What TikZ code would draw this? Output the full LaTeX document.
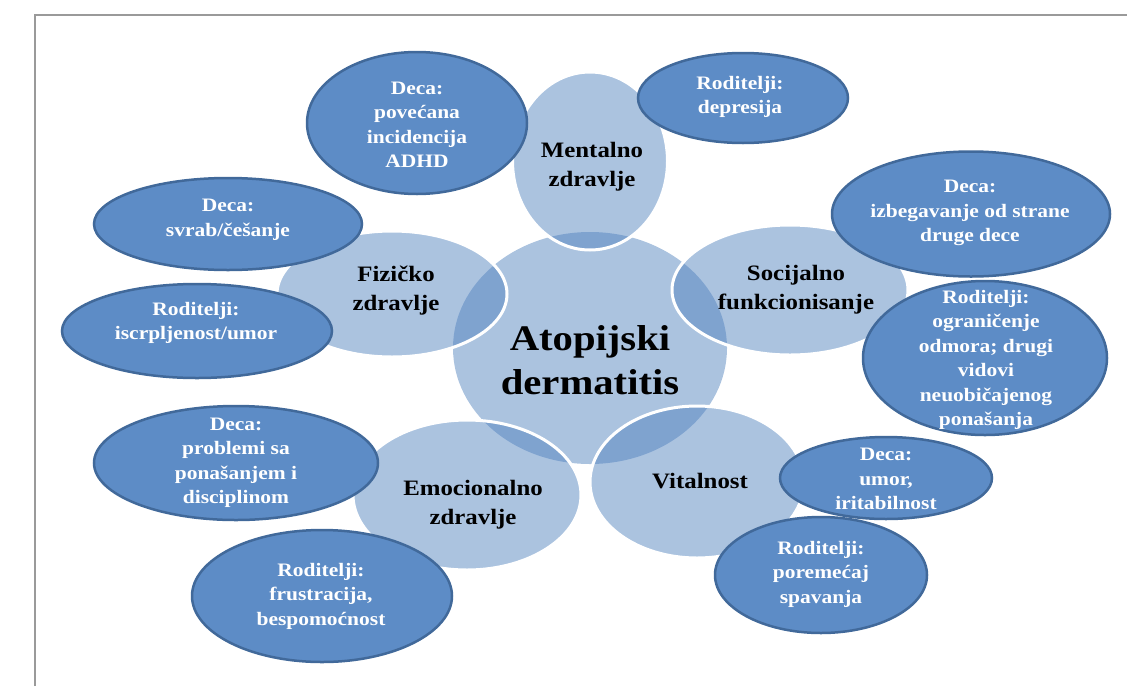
\documentclass[tikz,border=0pt]{standalone}
\usepackage{fontspec}
\setmainfont[FakeStretch=1.13]{Liberation Serif}
\usetikzlibrary{shapes.geometric}
\definecolor{accent}{HTML}{4F81BD}
\definecolor{darkfill}{HTML}{5D8CC6}
\definecolor{darkline}{HTML}{41699A}
\definecolor{framegray}{HTML}{9A9A9A}
\tikzset{
 hub/.style={ellipse, inner sep=0pt, outer sep=0pt, fill=accent, fill opacity=0.48, draw=none},
 petal/.style={ellipse, inner sep=0pt, outer sep=0pt, fill=accent, fill opacity=0.48, draw=white, draw opacity=1, line width=3pt},
 leaf/.style={ellipse, inner sep=0pt, outer sep=0pt, fill=darkfill, draw=darkline, line width=2.5pt},
 leaftext/.style={text=white, font=\fontsize{19}{24.5}\selectfont\bfseries, align=center, inner sep=0pt},
 petaltext/.style={text=black, font=\fontsize{22}{29}\selectfont\bfseries, align=center, inner sep=0pt},
 hubtext/.style={text=black, font=\fontsize{36}{44}\selectfont\bfseries, align=center, inner sep=0pt},
 framebar/.style={draw=framegray, line width=2pt},
}
\begin{document}
\begin{tikzpicture}[x=1pt,y=-1pt]
\useasboundingbox (0,0) rectangle (1127,686);
% frame
\coordinate (fBL) at (35,686);
\coordinate (fTL) at (35,15);
\coordinate (fTR) at (1127,15);
\draw[framebar] (fBL) -- (fTL) -- (fTR);
% hub and petals
\node[hub, minimum width=274pt, minimum height=232pt] (hub) at (590,348) {};
\node[petal, minimum width=155pt, minimum height=178pt] (ment) at (590,161) {};
\node[petal, minimum width=230pt, minimum height=126pt] (fiz) at (392,294) {};
\node[petal, minimum width=236pt, minimum height=130pt] (soc) at (790,290) {};
\node[petal, minimum width=214pt, minimum height=152pt] (vit) at (697,482) {};
\node[petal, minimum width=228pt, minimum height=150pt] (emo) at (467,495) {};
% leaves
\node[leaf, minimum width=220pt, minimum height=142pt] (adhd) at (417,123) {};
\node[leaf, minimum width=210pt, minimum height=90pt] (depr) at (743,98) {};
\node[leaf, minimum width=268pt, minimum height=92pt] (svrab) at (228,224) {};
\node[leaf, minimum width=270pt, minimum height=94pt] (iscr) at (197,331) {};
\node[leaf, minimum width=278pt, minimum height=125pt] (izbeg) at (971,214) {};
\node[leaf, minimum width=244pt, minimum height=154pt] (ogran) at (985,358) {};
\node[leaf, minimum width=284pt, minimum height=114pt] (probl) at (236,463) {};
\node[leaf, minimum width=260pt, minimum height=132pt] (frust) at (322,596) {};
\node[leaf, minimum width=212pt, minimum height=116pt] (porem) at (821,575) {};
\node[leaf, minimum width=212pt, minimum height=82pt] (umor) at (886,478) {};
% texts
\node[hubtext] (thub) at (590,360) {Atopijski\\dermatitis};
\node[petaltext] (tment) at (592,167) {Mentalno\\zdravlje};
\node[petaltext] (tfiz) at (396,291) {Fizičko\\zdravlje};
\node[petaltext] (tsoc) at (796,290) {Socijalno\\funkcionisanje};
\node[petaltext] (tvit) at (700,481) {Vitalnost};
\node[petaltext] (temo) at (473,505) {Emocionalno\\zdravlje};
\node[leaftext] (tadhd) at (417,125) {Deca:\\povećana\\incidencija\\ADHD};
\node[leaftext] (tdepr) at (740,97) {Roditelji:\\depresija};
\node[leaftext] (tsvrab) at (228,220) {Deca:\\svrab/češanje};
\node[leaftext] (tiscr) at (196,323) {Roditelji:\\iscrpljenost/umor};
\node[leaftext] (tizbeg) at (970,213) {Deca:\\izbegavanje od strane\\druge dece};
\node[leaftext] (togran) at (986,360) {Roditelji:\\ograničenje\\odmora; drugi\\vidovi\\neuobičajenog\\ponašanja};
\node[leaftext] (tprobl) at (236,463) {Deca:\\problemi sa\\ponašanjem i\\disciplinom};
\node[leaftext] (tfrust) at (321,596) {Roditelji:\\frustracija,\\bespomoćnost};
\node[leaftext] (tumor) at (886,479) {Deca:\\umor,\\iritabilnost};
\node[leaftext] (tporem) at (821,574) {Roditelji:\\poremećaj\\spavanja};
\end{tikzpicture}
\end{document}
